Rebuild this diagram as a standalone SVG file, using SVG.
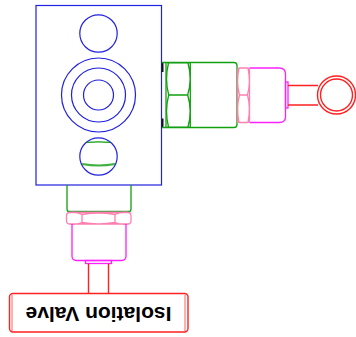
<svg xmlns="http://www.w3.org/2000/svg" width="356" height="337" viewBox="0 0 356 337">
<style>
.b{fill:none;stroke:#2020e0;stroke-width:1.2}
.g{fill:none;stroke:#10a010;stroke-width:1.3}
.p{fill:none;stroke:#ff80b0;stroke-width:1.3}
.m{fill:none;stroke:#ff20ff;stroke-width:1.3}
.r{fill:none;stroke:#ff2020;stroke-width:1.4}
.t{font:bold 21px "Liberation Sans",Arial,sans-serif;fill:#000;text-anchor:middle}
</style>
<rect width="356" height="337" fill="#fff"/>
<g id="block">
<rect class="b" x="36" y="5.5" width="125.5" height="179.5"/>
<circle class="b" cx="98.5" cy="33.500" r="18.7"/>
<circle class="b" cx="98.5" cy="95" r="37"/>
<circle class="b" cx="98.5" cy="95" r="27"/>
<circle class="b" cx="98.5" cy="95" r="15"/>
<circle class="b" cx="98.5" cy="156.500" r="18.7"/>
<path class="g" d="M87 142.300Q98.500 141.500 110 142.300"/>
<path d="M82 164Q98.500 167 115 164" fill="none" stroke="#40b040" stroke-width="2"/>
</g>
<g id="bottom-fitting">
<path class="g" d="M67 185V209Q67 212 70 212H128Q131 212 131 209V185"/>
<path d="M68 211.500H130" stroke="#40a040" stroke-width="1.500" fill="none"/>
<path class="p" d="M70 212.500H128Q131 212.500 131 216V220.500Q131 224 128 224H70Q66.500 224 66.500 220.500V216Q66.500 212.500 70 212.500ZM82 214.500V222.500M115 214.500V222.500M82 214.500Q98.500 211.500 115 214.500M82 222.500Q98.500 225.500 115 222.500M82 214.500Q76 211.500 70 212.500M82 222.500Q76 225 70 224M115 214.500Q121 211.500 128 212.500M115 222.500Q121 225 128 224"/>
<path class="m" d="M72 224V256Q72 260.500 76.500 260.500H121.500Q126 260.500 126 256V224"/>
<rect class="m" x="85.500" y="260.500" width="26" height="3"/>
</g>
<g id="right-fitting">
<rect x="161.500" y="63" width="2" height="9" fill="#111"/>
<rect x="161.500" y="118.500" width="2" height="9" fill="#111"/>
<path class="g" d="M162 62.500H234Q237 62.500 237 65.500V124.500Q237 127.500 234 127.500H162M166 62.500V127.500"/>
<path d="M167 63.500H190M167 126.500H190" stroke="#80c880" fill="none"/>
<path class="g" d="M190.300 62.500V127.500M168.700 95H187.700M168.500 63Q164.500 79 168.700 95Q164.500 111 168.500 127M188 63Q192.500 79 187.700 95Q192.500 111 188 127"/>
<path class="p" d="M240 68H247Q249.500 68 249.500 71V120Q249.500 122.500 247 122.500H240Q237.500 122.500 237.500 120V71Q237.500 68 240 68ZM239.500 95H247.500M239 68Q236 82 239.500 95Q236 108 239 122.500M248 68Q251 82 247.500 95Q251 108 248 122.500"/>
<path class="m" d="M249.500 68H279Q285.500 68 285.500 74V117Q285.500 122.500 279 122.500H249.500"/>
<rect class="m" x="285.500" y="82" width="2.500" height="26"/>
</g>
<g id="isolation-valve">
<path class="r" d="M88.500 263.500V293.500M108.500 263.500V293.500"/>
<rect class="r" x="9.500" y="293.500" width="178.500" height="38.500" rx="3.500"/>
<path d="M12 295V331M185 295V331" fill="none" stroke="#ff6060"/>
<text class="t" transform="rotate(180 98.500 313)" x="98.500" y="319.500">Isolation Valve</text>
</g>
<g id="gauge-stem">
<path class="r" d="M288 85.500H318M288 105H318"/>
<circle class="r" cx="336.500" cy="95" r="19"/>
<circle class="r" cx="336.500" cy="95" r="16"/>
</g>
<g id="connectors"/>
</svg>
